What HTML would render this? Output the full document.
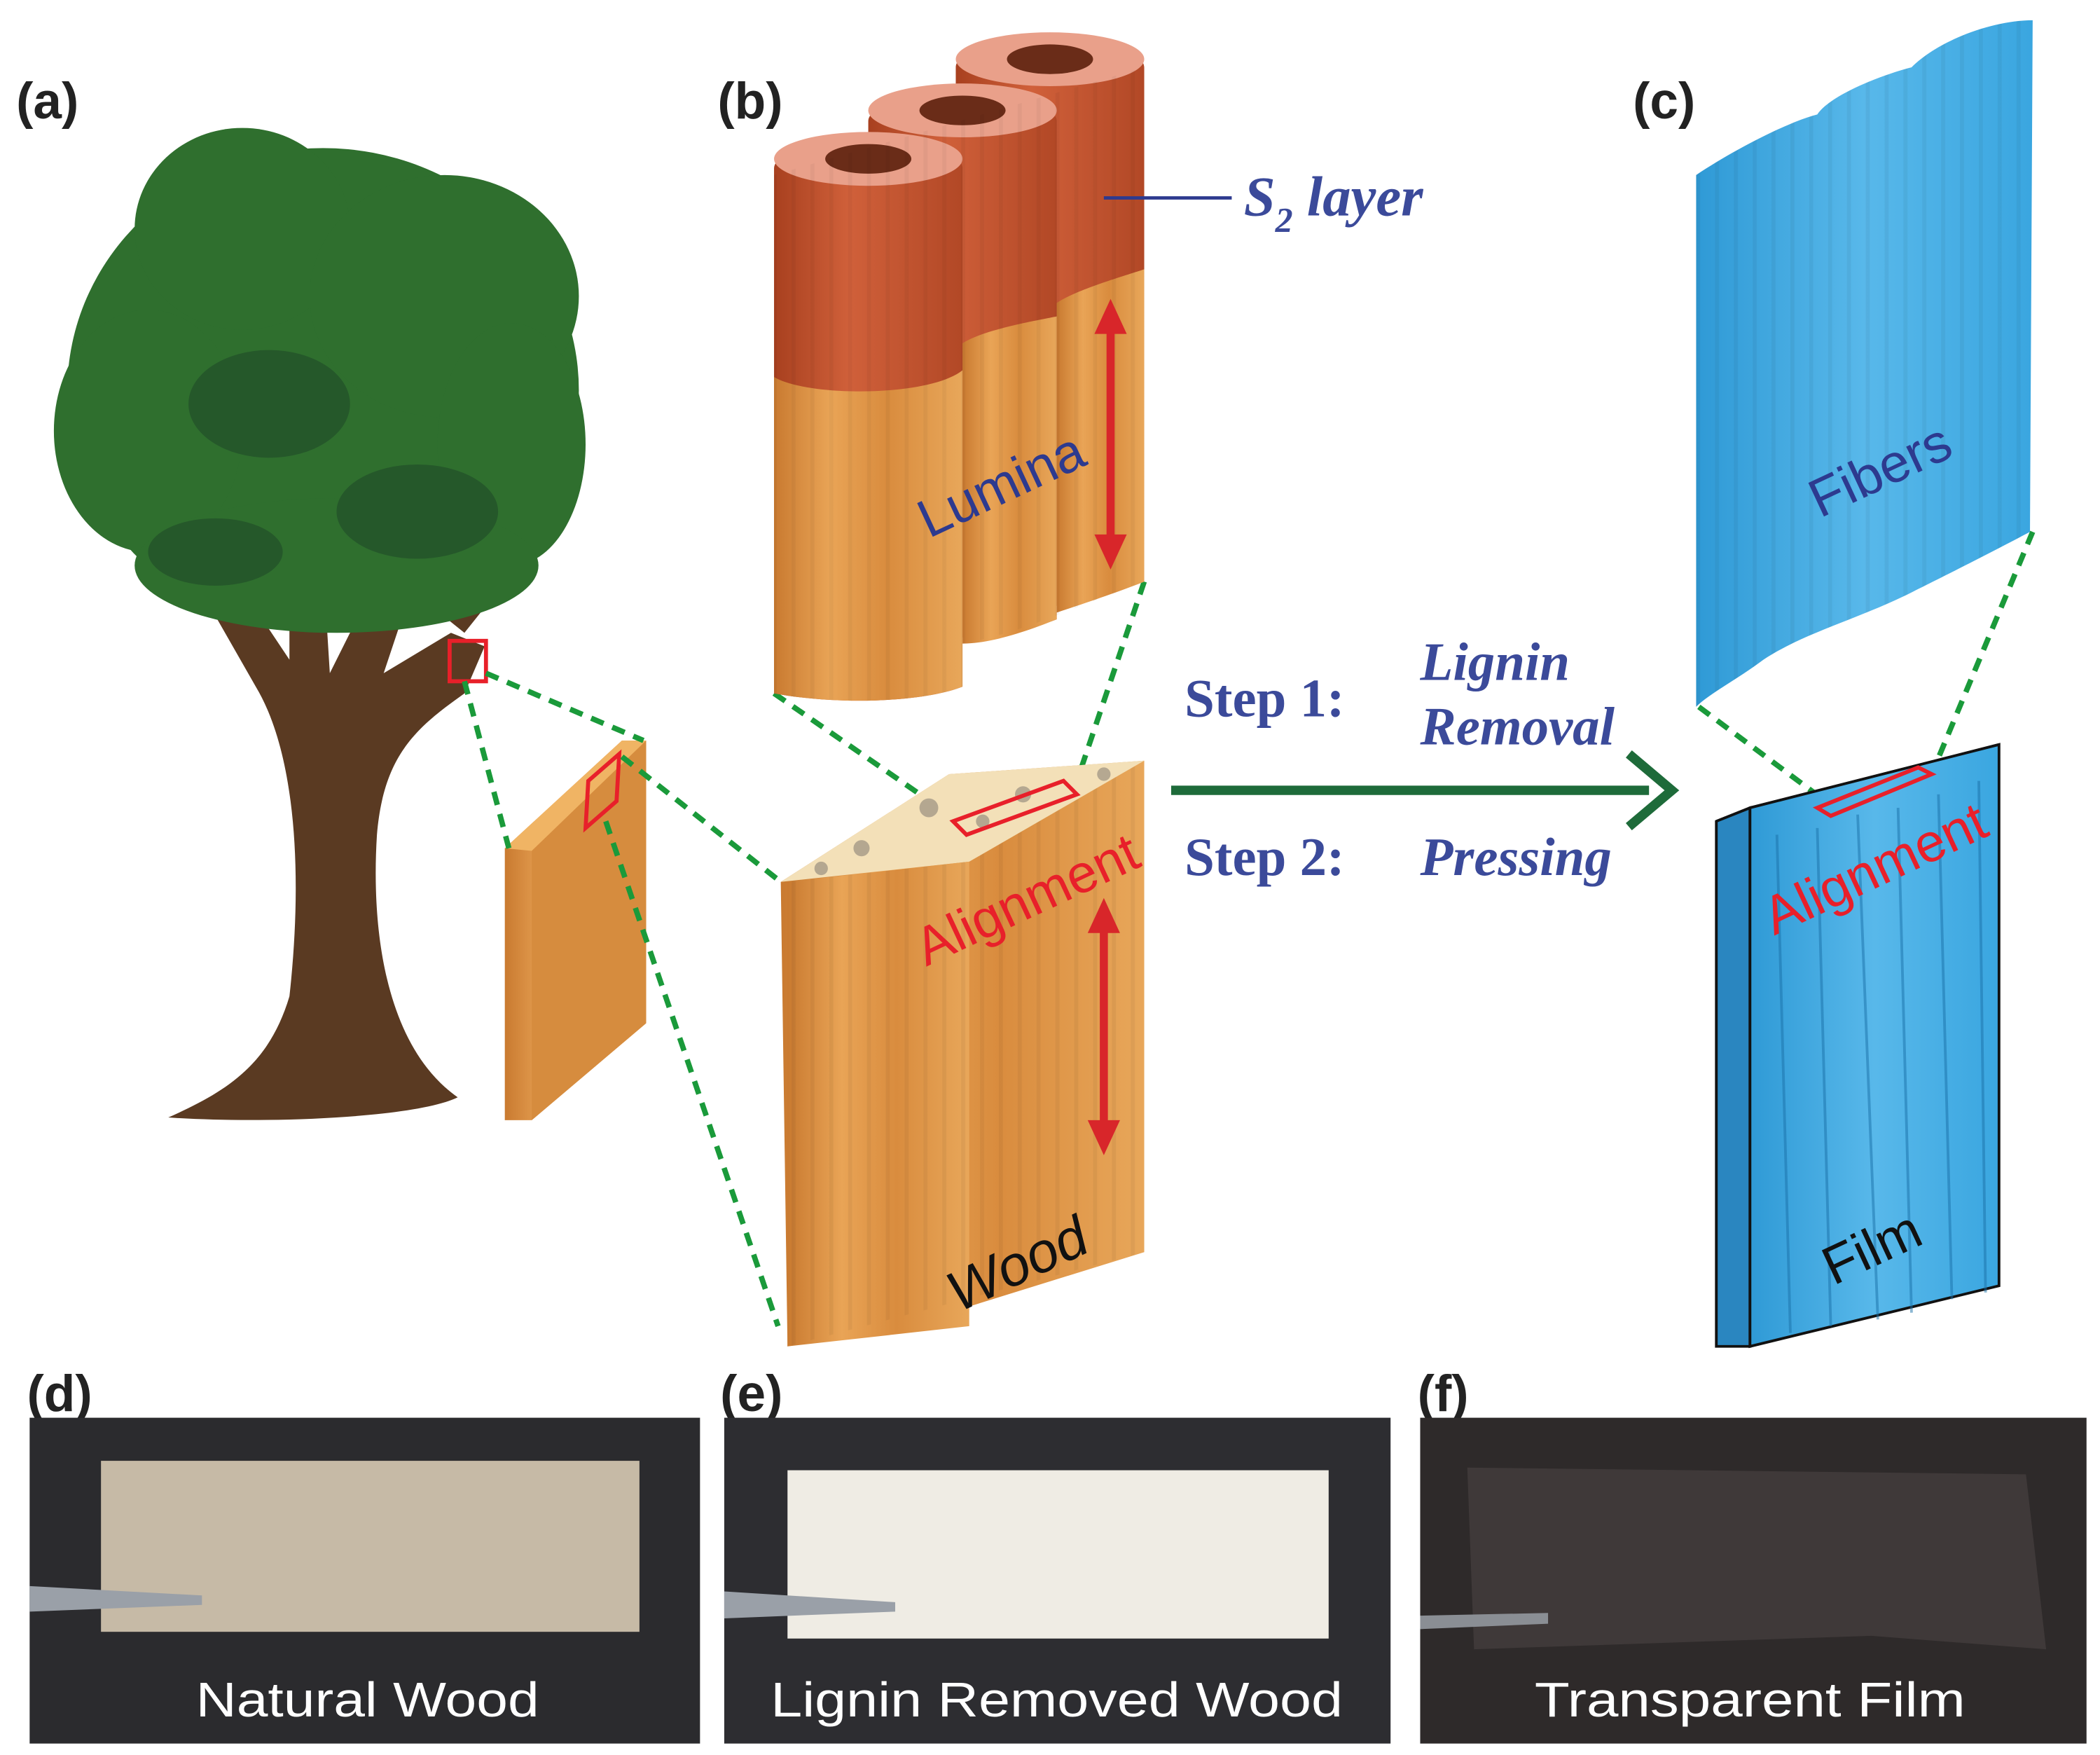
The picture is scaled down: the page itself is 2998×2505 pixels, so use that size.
<!DOCTYPE html>
<html><head><meta charset="utf-8"><style>
html,body{margin:0;padding:0;background:#fff;}
svg{display:block;}
</style></head><body>
<svg width="2998" height="2505" viewBox="0 0 1560 1303.5" xmlns="http://www.w3.org/2000/svg">
<defs>
<linearGradient id="wood" x1="0" x2="1">
<stop offset="0" stop-color="#c97a30"/><stop offset="0.3" stop-color="#e9a456"/><stop offset="0.6" stop-color="#d98c3e"/><stop offset="1" stop-color="#e8a75a"/></linearGradient>
<linearGradient id="cell" x1="0" x2="1">
<stop offset="0" stop-color="#a8401f"/><stop offset="0.4" stop-color="#d0603a"/><stop offset="1" stop-color="#b24826"/></linearGradient>
<linearGradient id="blue" x1="0" x2="1">
<stop offset="0" stop-color="#2f9ad6"/><stop offset="0.5" stop-color="#58b8ea"/><stop offset="1" stop-color="#3aa6e0"/></linearGradient>
<pattern id="stripes" width="14" height="10" patternUnits="userSpaceOnUse">
<rect x="0" width="3" height="10" fill="#000" opacity="0.08"/></pattern>
</defs>

<g font-family="Liberation Sans, sans-serif" font-weight="bold" font-size="38" fill="#222">
<text x="12" y="88">(a)</text><text x="533" y="88">(b)</text><text x="1213" y="88">(c)</text>
<text x="20" y="1048">(d)</text><text x="535" y="1048">(e)</text><text x="1053" y="1048">(f)</text>
</g>

<!-- tree -->
<path d="M125,830 C170,810 200,790 215,740 C225,650 220,560 190,510 L150,440 L175,430 L215,490 L215,420 L240,420 L245,500 L280,430 L305,440 L285,500 L335,470 L360,480 L345,515 C310,540 285,560 280,620 C275,700 290,780 340,815 C310,830 200,835 125,830 Z" fill="#5a3a22"/>
<path d="M320,450 L375,410 L385,420 L345,470 Z" fill="#5a3a22"/>
<g fill="#2f6f2e">
<ellipse cx="240" cy="290" rx="190" ry="180"/>
<ellipse cx="180" cy="170" rx="80" ry="75"/>
<ellipse cx="330" cy="220" rx="100" ry="90"/>
<ellipse cx="110" cy="320" rx="70" ry="90"/>
<ellipse cx="380" cy="330" rx="55" ry="90"/>
<ellipse cx="250" cy="420" rx="150" ry="50"/>
</g>
<g fill="#25582a"><ellipse cx="200" cy="300" rx="60" ry="40"/><ellipse cx="310" cy="380" rx="60" ry="35"/><ellipse cx="160" cy="410" rx="50" ry="25"/></g>
<rect x="334" y="476" width="27" height="30" fill="none" stroke="#e8202a" stroke-width="3"/>

<!-- small board -->
<polygon points="375,630 462,550 480,550 480,760 395,832 375,832" fill="url(#wood)"/>
<polygon points="375,630 462,550 480,550 395,632" fill="#f0b464"/>
<polygon points="395,632 480,550 480,760 395,832" fill="#d68c3e"/>
<polygon points="437,580 460,560 458,595 435,615" fill="none" stroke="#e8202a" stroke-width="3"/>

<!-- dashed lines -->
<g stroke="#1a9a3a" stroke-width="4" stroke-dasharray="10,7" fill="none">
<line x1="345" y1="506" x2="378" y2="630"/><line x1="361" y1="500" x2="478" y2="550"/>
<line x1="462" y1="562" x2="580" y2="655"/><line x1="450" y1="610" x2="578" y2="985"/>
<line x1="575" y1="515" x2="708" y2="607"/><line x1="850" y1="432" x2="800" y2="580"/>
<line x1="1262" y1="525" x2="1360" y2="598"/><line x1="1510" y1="395" x2="1437" y2="570"/>
</g>

<!-- big block -->
<polygon points="580,655 705,575 850,565 850,930 705,975 585,1000" fill="url(#wood)"/>
<polygon points="580,655 705,575 850,565 720,640" fill="#f3e0b8"/>
<g fill="#9a9080" opacity="0.7"><circle cx="640" cy="630" r="6"/><circle cx="690" cy="600" r="7"/><circle cx="760" cy="590" r="6"/><circle cx="820" cy="575" r="5"/><circle cx="610" cy="645" r="5"/><circle cx="730" cy="610" r="5"/></g>
<polygon points="585,655 720,640 720,985 585,1000" fill="url(#wood)"/>
<polygon points="585,655 720,640 850,565 850,930 585,1000" fill="url(#stripes)" opacity="0.6"/>
<polygon points="708,610 790,580 800,590 718,620" fill="none" stroke="#e8202a" stroke-width="3"/>
<text transform="translate(688,718) rotate(-25)" font-family="Liberation Sans, sans-serif" font-size="40" fill="#e8202a">Alignment</text>
<text transform="translate(712,975) rotate(-25)" font-family="Liberation Sans, sans-serif" font-style="italic" font-size="42" fill="#111">Wood</text>

<!-- cells -->
<g>
<path d="M710,50 C710,25 850,25 850,50 L850,432 C820,440 800,450 785,450 C760,455 720,450 710,440 Z" fill="url(#cell)"/>
<path d="M645,90 C645,65 785,65 785,90 L785,460 C760,470 700,480 645,470 Z" fill="url(#cell)"/>
<path d="M575,125 C575,100 715,100 715,125 L715,510 C690,520 630,525 575,515 Z" fill="url(#cell)"/>
<ellipse cx="645" cy="118" rx="70" ry="20" fill="#e9a08a"/><ellipse cx="645" cy="118" rx="32" ry="11" fill="#6a2c18"/>
<ellipse cx="715" cy="82" rx="70" ry="20" fill="#e9a08a"/><ellipse cx="715" cy="82" rx="32" ry="11" fill="#6a2c18"/>
<ellipse cx="780" cy="44" rx="70" ry="20" fill="#e9a08a"/><ellipse cx="780" cy="44" rx="32" ry="11" fill="#6a2c18"/>
<path d="M785,225 C800,215 835,205 850,200 L850,432 C830,440 800,450 785,455 Z" fill="url(#wood)"/>
<path d="M715,255 C730,245 770,238 785,235 L785,460 C760,470 735,478 715,478 Z" fill="url(#wood)"/>
<path d="M575,280 C600,295 690,295 715,275 L715,510 C690,520 630,525 575,515 Z" fill="url(#wood)"/>
<path d="M575,130 L850,50 L850,432 C800,450 760,470 715,478 L715,510 C690,520 630,525 575,515 Z" fill="url(#stripes)" opacity="0.5"/>
</g>
<text transform="translate(690,400) rotate(-25)" font-family="Liberation Sans, sans-serif" font-size="40" fill="#2d3a8f">Lumina</text>
<line x1="820" y1="147" x2="915" y2="147" stroke="#2d3a8f" stroke-width="2.5"/>
<text x="924" y="160" font-family="Liberation Serif, serif" font-style="italic" font-weight="bold" font-size="42" fill="#3b4a9a">S<tspan font-size="26" dy="12">2</tspan><tspan dy="-12"> layer</tspan></text>

<!-- red arrows -->
<g fill="#d8262a" stroke="#d8262a">
<line x1="825" y1="240" x2="825" y2="405" stroke-width="6"/><polygon points="825,222 813,248 837,248" stroke="none"/><polygon points="825,423 813,397 837,397" stroke="none"/>
<line x1="820" y1="685" x2="820" y2="840" stroke-width="6"/><polygon points="820,667 808,693 832,693" stroke="none"/><polygon points="820,858 808,832 832,832" stroke="none"/>
<line x1="1465" y1="236" x2="1465" y2="390" stroke-width="6"/><polygon points="1465,218 1453,244 1477,244" stroke="none"/><polygon points="1465,408 1453,382 1477,382" stroke="none"/>
<line x1="1456" y1="666" x2="1456" y2="826" stroke-width="6"/><polygon points="1456,648 1444,674 1468,674" stroke="none"/><polygon points="1456,844 1444,818 1468,818" stroke="none"/>
</g>

<!-- process arrow -->
<line x1="870" y1="587" x2="1225" y2="587" stroke="#1e6b3a" stroke-width="7"/>
<polyline points="1210,560 1242,587 1210,614" fill="none" stroke="#1e6b3a" stroke-width="7"/>
<g font-family="Liberation Serif, serif" font-weight="bold" font-size="40" fill="#3b4a9a">
<text x="880" y="532">Step 1:</text><text x="880" y="650">Step 2:</text>
<text x="1055" y="505" font-style="italic">Lignin</text><text x="1055" y="553" font-style="italic">Removal</text>
<text x="1055" y="650" font-style="italic">Pressing</text>
</g>

<!-- fibers sheet -->
<path id="fib" d="M1260,130 C1290,110 1330,90 1350,85 C1360,70 1400,55 1420,50 C1440,30 1480,15 1510,15 L1508,395 C1480,410 1440,430 1420,440 C1380,460 1340,470 1310,490 C1290,505 1270,515 1260,525 Z" fill="url(#blue)"/>
<path d="M1260,130 C1290,110 1330,90 1350,85 C1360,70 1400,55 1420,50 C1440,30 1480,15 1510,15 L1508,395 C1480,410 1440,430 1420,440 C1380,460 1340,470 1310,490 C1290,505 1270,515 1260,525 Z" fill="url(#stripes)" opacity="0.6"/>
<text transform="translate(1352,385) rotate(-25)" font-family="Liberation Sans, sans-serif" font-size="40" fill="#2d3a8f">Fibers</text>

<!-- film -->
<polygon points="1275,610 1300,600 1485,553 1460,563" fill="#7cc6ea" stroke="#111" stroke-width="2"/>
<polygon points="1275,610 1300,600 1300,1000 1275,1000" fill="#2a86c0" stroke="#111" stroke-width="2"/>
<polygon points="1300,600 1485,553 1485,955 1300,1000" fill="url(#blue)" stroke="#111" stroke-width="2"/>
<g stroke="#1a6fa8" stroke-width="2" opacity="0.5" fill="none">
<path d="M1320,620 L1330,990 M1350,615 L1360,985 M1380,605 L1395,980 M1410,600 L1420,975 M1440,590 L1450,965 M1470,580 L1475,960"/>
</g>
<polygon points="1350,600 1425,570 1435,575 1360,606" fill="none" stroke="#e8202a" stroke-width="3"/>
<text transform="translate(1318,695) rotate(-25)" font-family="Liberation Sans, sans-serif" font-size="40" fill="#e8202a">Alignment</text>
<text transform="translate(1362,955) rotate(-25)" font-family="Liberation Sans, sans-serif" font-size="40" fill="#111">Film</text>

<!-- photos -->
<rect x="22" y="1053" width="498" height="242" fill="#2b2b2e"/>
<rect x="75" y="1085" width="400" height="127" fill="#c6baa6"/>
<polygon points="22,1178 150,1185 150,1192 22,1197" fill="#9aa0a8"/>
<text x="273" y="1275" text-anchor="middle" font-family="Liberation Sans, sans-serif" font-size="36" fill="#fff" textLength="255" lengthAdjust="spacingAndGlyphs">Natural Wood</text>

<rect x="538" y="1053" width="495" height="242" fill="#2d2d31"/>
<rect x="585" y="1092" width="402" height="125" fill="#efece4"/>
<polygon points="538,1182 665,1190 665,1197 538,1202" fill="#9aa0a8"/>
<text x="785" y="1275" text-anchor="middle" font-family="Liberation Sans, sans-serif" font-size="36" fill="#fff" textLength="425" lengthAdjust="spacingAndGlyphs">Lignin Removed Wood</text>

<rect x="1055" y="1053" width="495" height="242" fill="#2e2a2a"/>
<polygon points="1090,1090 1505,1095 1520,1225 1390,1215 1095,1225" fill="#3f3939"/>
<polygon points="1055,1200 1150,1198 1150,1206 1055,1210" fill="#8a8e94"/>
<text x="1300" y="1275" text-anchor="middle" font-family="Liberation Sans, sans-serif" font-size="36" fill="#fff" textLength="320" lengthAdjust="spacingAndGlyphs">Transparent Film</text>
</svg>
</body></html>
